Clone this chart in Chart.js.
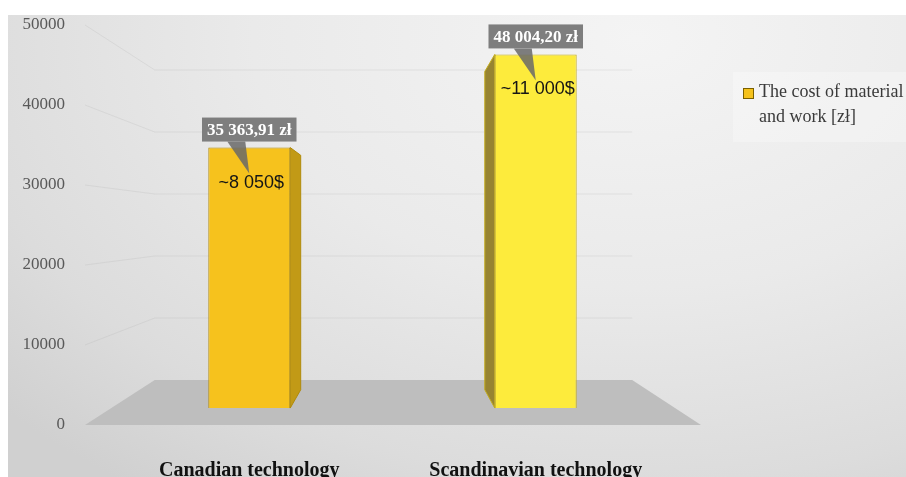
<!DOCTYPE html>
<html>
<head>
<meta charset="utf-8">
<script src="https://cdn.jsdelivr.net/npm/chart.js@4.4.1/dist/chart.umd.min.js"></script>
<style>
html, body { margin: 0; padding: 0; background: #fff; overflow: hidden; }
#wrap { position: relative; width: 906px; height: 477px; }
#bg {
	position: absolute; left: 8px; top: 15px; right: 0; bottom: 0;
	background: radial-gradient(ellipse 95% 120% at 70% 5%, #f4f4f4 0%, #eaeaea 45%, #dcdcdc 80%, #d0d0d0 100%);
}
#chart { position: absolute; left: 0; top: 0; }
#legend {
	position: absolute; left: 733px; top: 72px; width: 173px; height: 70px;
	background: rgba(255,255,255,0.28);
	font-family: "Liberation Serif", "Times New Roman", serif; font-size: 18px; color: #3a3a3a;
	line-height: 25px; white-space: nowrap; overflow: hidden;
	padding: 7px 0 0 26px; box-sizing: border-box;
}
#legend .sw {
	position: absolute; left: 10px; top: 16px; width: 9px; height: 9px;
	background: #f5c21c; border: 1px solid #7a6000;
}
</style>
</head>
<body>
<div id="wrap">
	<div id="bg"></div>
	<canvas id="chart" width="906" height="477"></canvas>
	<div id="legend"><span class="sw"></span>The cost of material<br>and work [zł]</div>
</div>
<script>
var categories = ['Canadian technology', 'Scandinavian technology'];
var costPln = [35363.91, 48004.20];
var costUsd = ['~8 050$', '~11 000$'];
var yTicks = [0, 10000, 20000, 30000, 40000, 50000];

var barFront = ['#f6c21d', '#fdeb3c'];
var barEdge = ['#b08a0a', '#c2ab1c'];
var barSide = ['#c29a16', '#978431'];

// rough 3D look: vanishing point, depth of the back wall and of the bars
var VP = { x: 395, y: 225 };
var wallDepth = 0.775;
var barDepth = 0.9;

function proj(x, y, k) {
	return [VP.x + (x - VP.x) * k, VP.y + (y - VP.y) * k];
}

function fmtPln(v) {
	var p = v.toFixed(2).split('.');
	return p[0].replace(/\B(?=(\d{3})+(?!\d))/g, ' ') + ',' + p[1] + ' zł';
}

function poly(ctx, pts) {
	ctx.beginPath();
	ctx.moveTo(pts[0][0], pts[0][1]);
	for (var i = 1; i < pts.length; i++) ctx.lineTo(pts[i][0], pts[i][1]);
	ctx.closePath();
}

var scenePlugin = {
	id: 'scene',
	beforeDatasetsDraw: function(chart) {
		var ctx = chart.ctx, ca = chart.chartArea, ys = chart.scales.y;
		var fl = ca.left - 21, fr = ca.right + 22;
		ctx.save();
		// walls grid
		ctx.strokeStyle = 'rgba(175,175,175,0.22)';
		ctx.lineWidth = 1;
		yTicks.forEach(function(v) {
			if (v === 0) return;
			var y = ys.getPixelForValue(v);
			var a = proj(fl, y, wallDepth), b = proj(fr, y, wallDepth);
			ctx.beginPath();
			ctx.moveTo(fl, y);
			ctx.lineTo(a[0], a[1]);
			ctx.lineTo(b[0], a[1]);
			ctx.stroke();
		});
		// floor
		var fy = ys.getPixelForValue(0);
		var bl = proj(fl, fy, wallDepth), br = proj(fr, fy, wallDepth);
		ctx.fillStyle = '#bebebe';
		poly(ctx, [[fl, fy], [fr, fy], br, bl]);
		ctx.fill();
		// bar side faces
		chart.getDatasetMeta(0).data.forEach(function(bar, i) {
			var half = bar.width / 2;
			var ex = bar.x < VP.x ? bar.x + half : bar.x - half;
			var t = proj(ex, bar.y, barDepth), b = proj(ex, bar.base, barDepth);
			ctx.fillStyle = barSide[i];
			poly(ctx, [[ex, bar.y], t, b, [ex, bar.base]]);
			ctx.fill();
			ctx.strokeStyle = barEdge[i];
			ctx.stroke();
		});
		ctx.restore();
	},
	afterDatasetsDraw: function(chart) {
		var ctx = chart.ctx;
		ctx.save();
		chart.getDatasetMeta(0).data.forEach(function(bar, i) {
			var cx = bar.x, top = bar.y;
			var txt = fmtPln(costPln[i]);
			ctx.font = 'bold 17px "Liberation Serif", serif';
			var bw = ctx.measureText(txt).width + 10, bh = 24;
			var by = top - 6 - bh;
			// callout pointer and box
			ctx.fillStyle = 'rgba(105,105,105,0.85)';
			poly(ctx, [[cx - 22, by + bh], [cx - 4, by + bh], [cx, top + 26]]);
			ctx.fill();
			ctx.fillStyle = '#7e7e7e';
			ctx.fillRect(cx - bw / 2, by, bw, bh);
			ctx.fillStyle = '#ffffff';
			ctx.textAlign = 'center';
			ctx.textBaseline = 'middle';
			ctx.fillText(txt, cx, by + bh / 2 + 1);
			// dollar note
			ctx.font = '18px "Liberation Sans", sans-serif';
			ctx.fillStyle = '#151515';
			ctx.fillText(costUsd[i], cx + 2, top + 35);
		});
		ctx.restore();
	}
};

new Chart(document.getElementById('chart'), {
	type: 'bar',
	data: {
		labels: categories,
		datasets: [{
			label: 'The cost of material and work [zł]',
			data: costPln,
			yAxisID: 'yb',
			backgroundColor: barFront,
			borderColor: barEdge,
			borderWidth: 1,
			categoryPercentage: 1,
			barPercentage: 0.286
		}]
	},
	plugins: [scenePlugin],
	options: {
		responsive: false,
		animation: false,
		layout: {
			padding: { top: 25, right: 227, left: 0, bottom: 0 }
		},
		plugins: {
			legend: { display: false },
			tooltip: { enabled: false }
		},
		scales: {
			x: {
				grid: { display: false },
				border: { display: false },
				ticks: {
					maxRotation: 0,
					padding: 26,
					color: '#111111',
					font: { family: '"Liberation Serif", "Times New Roman", serif', size: 20, weight: 'bold' }
				},
				afterFit: function(scale) { scale.height = 52; }
			},
			y: {
				min: 0,
				max: 50000,
				grid: { display: false },
				border: { display: false },
				afterBuildTicks: function(scale) {
					scale.ticks = yTicks.map(function(v) { return { value: v }; });
				},
				ticks: {
					padding: 33,
					color: '#595959',
					font: { family: '"Liberation Serif", "Times New Roman", serif', size: 17 },
					callback: function(v) { return String(v); }
				},
				afterFit: function(scale) {
					scale.width = 106;
					scale.paddingTop = 0;
					scale.paddingBottom = 0;
				}
			},
			// bars sit on the front plane of the 3D box, a bit smaller than the labelled axis
			yb: {
				display: false,
				min: -2300,
				max: 52000
			}
		}
	}
});
</script>
</body>
</html>
